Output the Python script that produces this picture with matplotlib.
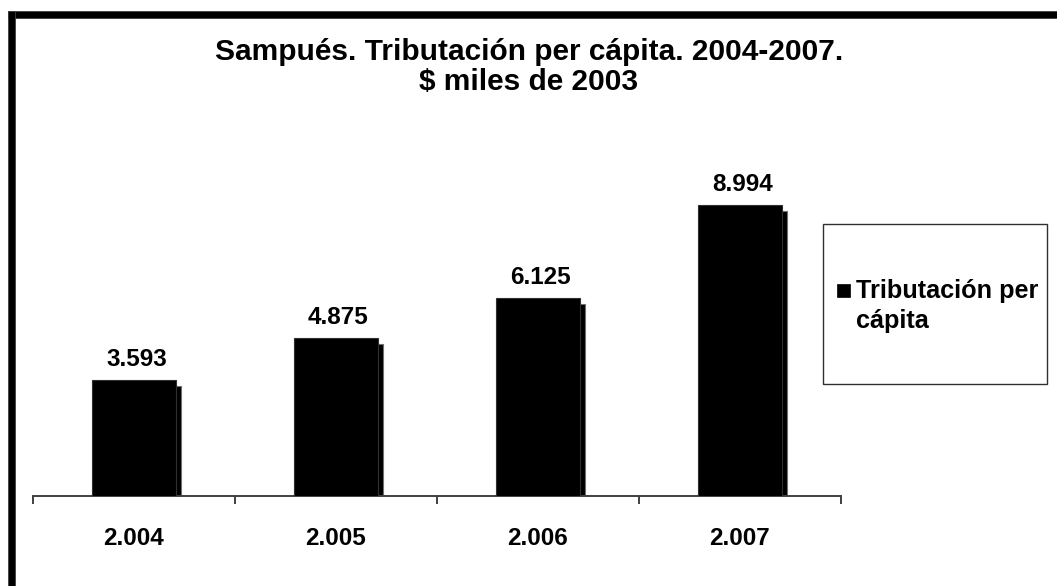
import matplotlib
matplotlib.use("Agg")
import matplotlib.pyplot as plt
from matplotlib.patches import Rectangle
from matplotlib.transforms import ScaledTranslation

# ---- data ----
years = ["2.004", "2.005", "2.006", "2.007"]
values = [3593, 4875, 6125, 8994]
series_name = "Tributación per\ncápita"
title_lines = ["Sampués. Tributación per cápita. 2004-2007.", "$ miles de 2003"]

plt.rcParams['font.family'] = ['Liberation Sans', 'DejaVu Sans']
plt.rcParams['font.weight'] = 'bold'

W, H = 1057, 586
DPI = 100
fig = plt.figure(figsize=(W / DPI, H / DPI), dpi=DPI)
fig.patch.set_facecolor('white')

def fx(px):
    return px / W

def fy(py):
    return 1 - py / H

# axes: x 33..841 px, baseline y=496, top (ylim max) at 172.5
ax_left, ax_right = 33, 841
ax_bottom, ax_top = 496, 172.5
ax = fig.add_axes([fx(ax_left), fy(ax_bottom), fx(ax_right - ax_left), (ax_bottom - ax_top) / H])
ax.set_facecolor('none')

x = list(range(len(years)))
bar_w = 0.416

# shadow bars (offset right / down)
shadow_tr = ax.transData + ScaledTranslation(5 / DPI, -6 / DPI, fig.dpi_scale_trans)
ax.bar(x, values, width=bar_w, color='black', edgecolor='#707070', linewidth=0.8,
       transform=shadow_tr, zorder=2)
# main bars
ax.bar(x, values, width=bar_w, color='black', edgecolor='#303030', linewidth=0.8, zorder=3)

for xi, v in zip(x, values):
    ax.annotate(f"{v:,}".replace(",", "."), xy=(xi, v), xytext=(2.5, 9),
                textcoords='offset pixels', ha='center', va='bottom',
                fontsize=17.5, fontweight='bold', color='black')

ax.set_xlim(-0.5, len(years) - 0.5)
ax.set_ylim(0, 10000)
for s in ['top', 'right', 'left']:
    ax.spines[s].set_visible(False)
ax.spines['bottom'].set_color('#404040')
ax.spines['bottom'].set_linewidth(1.4)
ax.set_yticks([])
ax.set_xticks(x)
ax.set_xticklabels(years, fontsize=17.5, fontweight='bold')
ax.tick_params(axis='x', which='major', length=0, pad=22)
ax.set_xticks([i - 0.5 for i in range(len(years) + 1)], minor=True)
ax.tick_params(axis='x', which='minor', length=6, width=1.4, color='#404040', direction='out')

# title
fig.text(fx(529), fy(52), title_lines[0], ha='center', va='center',
         fontsize=21.5, fontweight='bold')
fig.text(fx(529), fy(81.5), title_lines[1], ha='center', va='center',
         fontsize=21.5, fontweight='bold')

# legend box (manual)
fig.patches.append(Rectangle((fx(823), fy(384)), fx(1047 - 823), (384 - 224) / H,
                             transform=fig.transFigure, facecolor='white',
                             edgecolor='#303030', linewidth=1.0, zorder=1))
fig.patches.append(Rectangle((fx(837), fy(297)), fx(13), 13 / H,
                             transform=fig.transFigure, facecolor='black',
                             edgecolor='black', linewidth=0.5, zorder=2))
fig.text(fx(856), fy(279), series_name, ha='left', va='top',
         fontsize=18.2, fontweight='bold', linespacing=1.3, zorder=3)

# thick frame (top and left)
fig.patches.append(Rectangle((fx(8), fy(18)), fx(W), 7 / H, transform=fig.transFigure,
                             facecolor='black', edgecolor='#404040', linewidth=0.6, zorder=5))
fig.patches.append(Rectangle((fx(8), 0), fx(7), fy(11), transform=fig.transFigure,
                             facecolor='black', edgecolor='#404040', linewidth=0.6, zorder=5))

fig.savefig("out.png", dpi=DPI, facecolor='white')
